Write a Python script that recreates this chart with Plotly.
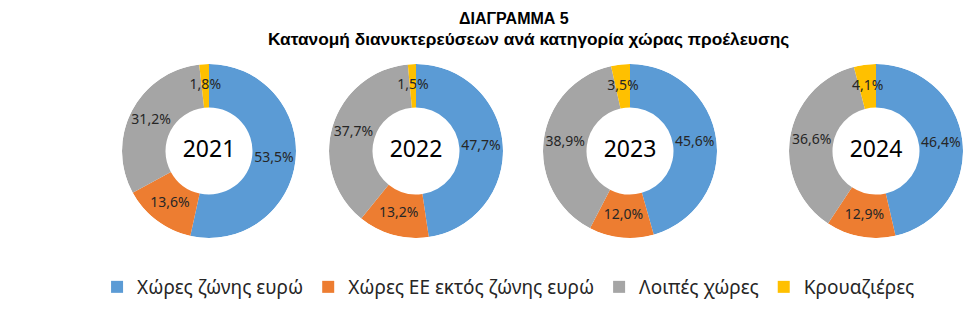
import numpy as np
import plotly.graph_objects as go

categories = ["Χώρες ζώνης ευρώ", "Χώρες ΕΕ εκτός ζώνης ευρώ", "Λοιπές χώρες", "Κρουαζιέρες"]
colors = ["#5B9BD5", "#ED7D31", "#A5A5A5", "#FFC000"]
years = ["2021", "2022", "2023", "2024"]
values_2021 = [53.5, 13.6, 31.2, 1.8]
values_2022 = [47.7, 13.2, 37.7, 1.5]
values_2023 = [45.6, 12.0, 38.9, 3.5]
values_2024 = [46.4, 12.9, 36.6, 4.1]
series = [values_2021, values_2022, values_2023, values_2024]

W, H = 978, 333
centers_x = [209, 416, 630, 876]
center_y = 151
radius = 87
HOLE = 0.5

fig = go.Figure()
layout_polars = {}
for i, (yr, vals) in enumerate(zip(years, series)):
    pname = "polar" if i == 0 else f"polar{i + 1}"
    v = np.array(vals, dtype=float)
    widths = v / v.sum() * 360.0
    starts = np.concatenate([[0.0], np.cumsum(widths)[:-1]])
    mids = starts + widths / 2.0
    for k, cat in enumerate(categories):
        fig.add_trace(go.Barpolar(
            r=[1.0 - HOLE], base=[HOLE], theta=[mids[k]], width=[widths[k]],
            name=cat, legendgroup=cat, showlegend=(i == 0),
            marker=dict(color=colors[k], line=dict(width=0)),
            hovertemplate=f"{cat}<br>{yr}: " + f"{vals[k]:.1f}%".replace(".", ",") + "<extra></extra>",
            subplot=pname,
        ))
    fig.add_trace(go.Scatterpolar(
        r=[(1.0 + HOLE) / 2.0] * len(vals), theta=list(mids), mode="text",
        text=[f"{x:.1f}%".replace(".", ",") for x in vals],
        textfont=dict(family="Noto Sans", size=14, color="#262626"),
        textposition="middle center", showlegend=False, hoverinfo="skip",
        subplot=pname,
    ))
    fig.add_trace(go.Scatterpolar(
        r=[0], theta=[0], mode="text", text=[yr],
        textfont=dict(family="Noto Sans", size=23, color="#000000"),
        textposition="middle center", showlegend=False, hoverinfo="skip",
        subplot=pname,
    ))
    cx = centers_x[i]
    layout_polars[pname] = dict(
        domain=dict(x=[(cx - radius) / W, (cx + radius) / W],
                    y=[(H - center_y - radius) / H, (H - center_y + radius) / H]),
        bgcolor="rgba(0,0,0,0)",
        bargap=0,
        radialaxis=dict(visible=False, range=[0, 1]),
        angularaxis=dict(visible=False, rotation=90, direction="clockwise"),
    )

fig.update_layout(
    width=W, height=H,
    margin=dict(l=0, r=0, t=0, b=0),
    paper_bgcolor="white",
    plot_bgcolor="white",
    legend=dict(orientation="h", x=0.520, xanchor="center", y=(H - 287) / H, yanchor="middle",
                font=dict(family="Noto Sans", size=19, color="#262626"),
                itemwidth=30),
    annotations=[
        dict(text="<b>ΔΙΑΓΡΑΜΜΑ 5</b>", x=514 / W, y=(H - 18) / H, xref="paper", yref="paper",
             yanchor="middle", showarrow=False,
             font=dict(family="Liberation Sans", size=16, color="#000000")),
        dict(text="<b>Κατανομή διανυκτερεύσεων ανά κατηγορία χώρας προέλευσης</b>", x=528 / W, y=(H - 39) / H,
             xref="paper", yref="paper", yanchor="middle", showarrow=False,
             font=dict(family="Liberation Sans", size=17.3, color="#000000")),
    ],
    **layout_polars,
)

fig.write_html("out.html")
